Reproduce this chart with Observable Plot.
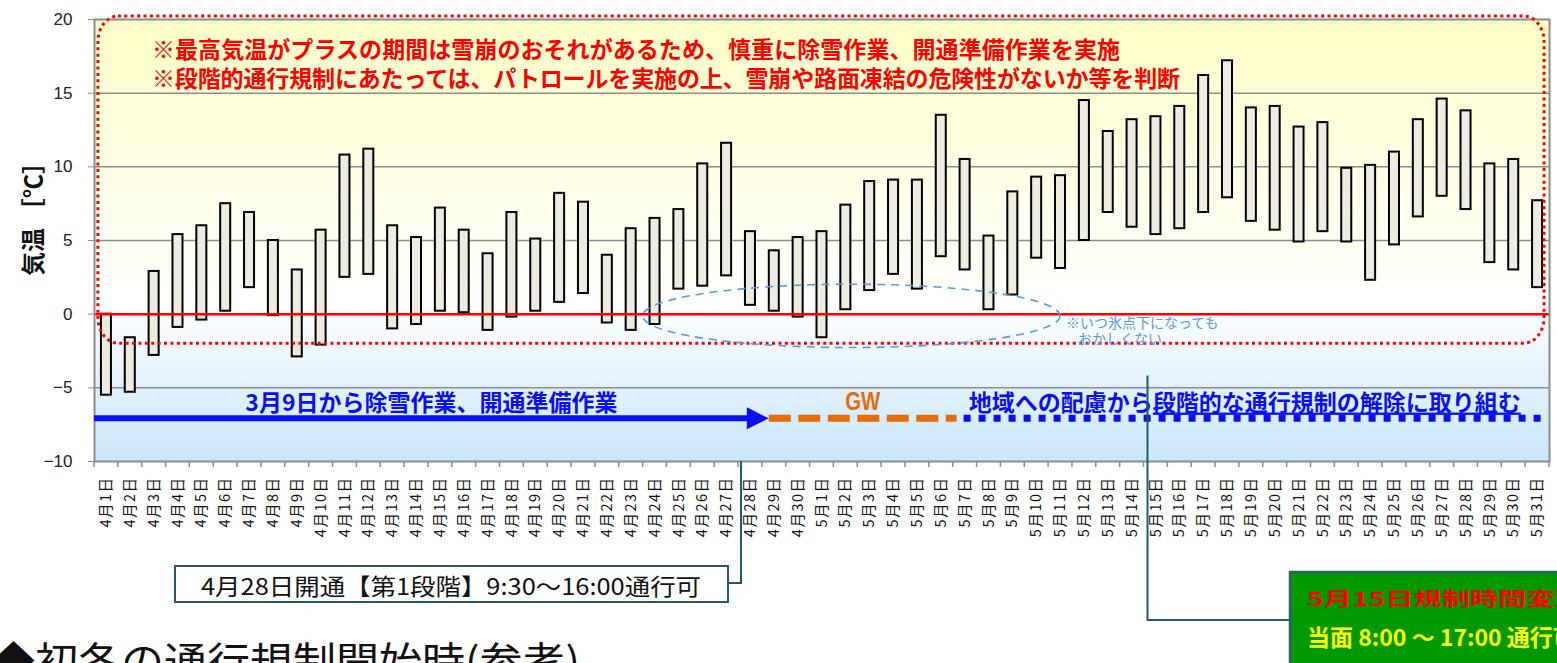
<!DOCTYPE html>
<html><head><meta charset="utf-8">
<script src="https://cdn.jsdelivr.net/npm/d3@7"></script>
<script src="https://cdn.jsdelivr.net/npm/@observablehq/plot@0.6"></script>
<style>
html,body{margin:0;padding:0;background:#fff;overflow:hidden;}
#chart svg{display:block;}
</style></head>
<body><div id="chart"></div>
<script>
// ---- data ----
const days = ["4月1日","4月2日","4月3日","4月4日","4月5日","4月6日","4月7日","4月8日","4月9日","4月10日",
"4月11日","4月12日","4月13日","4月14日","4月15日","4月16日","4月17日","4月18日","4月19日","4月20日",
"4月21日","4月22日","4月23日","4月24日","4月25日","4月26日","4月27日","4月28日","4月29日","4月30日",
"5月1日","5月2日","5月3日","5月4日","5月5日","5月6日","5月7日","5月8日","5月9日","5月10日",
"5月11日","5月12日","5月13日","5月14日","5月15日","5月16日","5月17日","5月18日","5月19日","5月20日",
"5月21日","5月22日","5月23日","5月24日","5月25日","5月26日","5月27日","5月28日","5月29日","5月30日","5月31日"];
const tmin = [-5.5,-5.3,-2.8,-0.9,-0.4,0.2,1.8,-0.1,-2.9,-2.1,
2.5,2.7,-1.0,-0.7,0.2,0.1,-1.1,-0.2,0.2,0.8,
1.4,-0.6,-1.1,-0.7,1.7,1.9,2.6,0.6,0.2,-0.2,
-1.6,0.3,1.6,2.7,1.7,3.9,3.0,0.3,1.3,3.8,
3.1,5.0,6.9,5.9,5.4,5.8,6.9,7.9,6.3,5.7,
4.9,5.6,4.9,2.3,4.7,6.6,8.0,7.1,3.5,3.0,1.8];
const tmax = [0.0,-1.6,2.9,5.4,6.0,7.5,6.9,5.0,3.0,5.7,
10.8,11.2,6.0,5.2,7.2,5.7,4.1,6.9,5.1,8.2,
7.6,4.0,5.8,6.5,7.1,10.2,11.6,5.6,4.3,5.2,
5.6,7.4,9.0,9.1,9.1,13.5,10.5,5.3,8.3,9.3,
9.4,14.5,12.4,13.2,13.4,14.1,16.2,17.2,14.0,14.1,
12.7,13.0,9.9,10.1,11.0,13.2,14.6,13.8,10.2,10.5,7.7];
const yTicks = [-10,-5,0,5,10,15,20];
const gridValues = [-5,5,10,15];
const zeroLine = [0];
const yTitle = "気温 ［℃］";

// ---- annotations ----
const noteLines = ["※最高気温がプラスの期間は雪崩のおそれがあるため、慎重に除雪作業、開通準備作業を実施",
                   "※段階的通行規制にあたっては、パトロールを実施の上、雪崩や路面凍結の危険性がないか等を判断"];
const noteLevels = [18.0, 16.0];
const cautionRange = [-2.0, 20.2];
const phaseLabels = [["3月9日から除雪作業、開通準備作業",""], ["GW",""], ["地域への配慮から","段階的な通行規制の解除に取り組む"]];
const phaseStart = ["4月1日","4月29日","5月7日"];
const phaseEnd = ["4月29日","5月7日","5月31日"];
const phaseKind = ["arrow","dash","dot"];
const phaseColors = ["#0A10F0","#E46C0A","#0A10F0"];
const phaseLevel = -7.1, phaseLabelLevel = -5.9;
const freezeSpan = ["4月24日","5月11日"];
const freezeLevels = [-2.3, 2.0];
const freezeNote = ["※いつ氷点下になっても","おかしくない"];
const callout1 = {day: "4月28日", text: "4月28日開通【第1段階】9:30～16:00通行可"};
const callout2 = {day: "5月15日", from: -4.2, lines: ["5月15日規制時間変更","当面 8:00 ～ 17:00 通行可"]};
const footerTitle = "◆初冬の通行規制開始時(参考)";

const data = days.map((d,i)=>({day:d, lo:tmin[i], hi:tmax[i]}));
const JP = "'Noto Sans CJK JP', 'Noto Sans', sans-serif";

const defsMark = () => {
  const defs = d3.create("svg:defs");
  const g = defs.append("linearGradient").attr("id","bgGrad").attr("x1",0).attr("y1",0).attr("x2",0).attr("y2",1);
  g.append("stop").attr("offset","0").attr("stop-color","#FFFFC8");
  g.append("stop").attr("offset","0.35").attr("stop-color","#FFFFE6");
  g.append("stop").attr("offset","0.64").attr("stop-color","#FFFFFF");
  g.append("stop").attr("offset","1").attr("stop-color","#C8E6FA");
  return defs.node();
};

const plot = Plot.plot({
  width: 1557, height: 663,
  marginTop: 19, marginBottom: 202, marginLeft: 94, marginRight: 8,
  style: {fontFamily: JP, background: "transparent", overflow: "visible"},
  x: {type: "band", domain: days, paddingInner: 0.58, paddingOuter: 0.29, round: false, label: null},
  y: {domain: [-10, 20], label: null},
  marks: [
    defsMark,
    Plot.frame({fill: "url(#bgGrad)"}),
    Plot.ruleY(gridValues, {stroke: "#8c8c8c", strokeWidth: 1.5}),
    Plot.barY(data, {x: "day", y1: "lo", y2: "hi", fill: "#EEEBE1", stroke: "#000", strokeWidth: 2}),
    Plot.ruleY(zeroLine, {stroke: "#FF0000", strokeWidth: 2.5}),
    Plot.frame({stroke: "#8c8c8c", strokeWidth: 2}),
    Plot.axisY({ticks: yTicks, tickSize: 6, tickPadding: 16, fontSize: 17, fontFamily: "'Liberation Sans', Arial, sans-serif", stroke: "#8c8c8c", fill: "#222", label: null}),
    Plot.axisX({tickRotate: -90, tickSize: 0, tickPadding: 15, fontSize: 14.5, fill: "#111", label: null})
  ]
});
document.getElementById("chart").append(plot);

// ---- annotation layer using Plot's scales ----
const svg = d3.select(plot);
const xs = plot.scale("x"), ys = plot.scale("y");
const X = d => xs.apply(d);
const step = xs.step, bw = xs.bandwidth;
const B = d => X(d) - (step - bw) / 2; // band boundary (left)
const Y = v => ys.apply(v);
const g = svg.append("g").attr("text-anchor", "start");

svg.selectAll("g[aria-label='x-axis tick label'] text").style("letter-spacing", "1.5px");

// x ticks between bands
const tickXs = days.map(B).concat([B(days[days.length-1]) + step]);
g.append("g").selectAll("line").data(tickXs).join("line")
  .attr("x1", d=>d).attr("x2", d=>d).attr("y1", Y(-10)).attr("y2", Y(-10)+6)
  .attr("stroke", "#8c8c8c").attr("stroke-width", 1.5);

// y title
g.append("text").attr("transform", `translate(31,${(Y(20)+Y(-10))/2 - 27}) rotate(-90)`)
  .attr("text-anchor","middle").attr("dominant-baseline","central")
  .attr("font-family", JP).attr("font-weight", 700).attr("font-size", 24).attr("fill","#111")
  .attr("textLength", 126).attr("lengthAdjust","spacing")
  .text(yTitle);

// caution rounded box
const cx0 = X(days[0]) - 3, cx1 = X(days[days.length-1]) + bw + 2;
g.append("rect").attr("x", cx0).attr("y", Y(cautionRange[1])).attr("width", cx1 - cx0)
  .attr("height", Y(cautionRange[0]) - Y(cautionRange[1])).attr("rx", 20).attr("ry", 26)
  .attr("fill","none").attr("stroke","#FF0000").attr("stroke-width",3).attr("stroke-dasharray","3,3.4");
noteLines.forEach((t,i)=>{
  g.append("text").attr("x", 152).attr("y", Y(noteLevels[i]) + (i===0? 0 : -1)).attr("dominant-baseline","central")
   .attr("text-anchor","start")
   .attr("font-family", JP).attr("font-weight",700).attr("font-size",23).attr("fill","#FF0000")
   .attr("textLength", i===0 ? 968 : 1028).attr("lengthAdjust","spacing").text(t);
});

// freeze ellipse
const ex0 = B(freezeSpan[0]), ex1 = X(freezeSpan[1]) + bw/2;
g.append("ellipse").attr("cx", (ex0+ex1)/2).attr("cy", (Y(freezeLevels[0])+Y(freezeLevels[1]))/2)
  .attr("rx", (ex1-ex0)/2).attr("ry", (Y(freezeLevels[0])-Y(freezeLevels[1]))/2)
  .attr("fill","none").attr("stroke","#5B9BD5").attr("stroke-width",1.6).attr("stroke-dasharray","8,6");
const fn = g.append("text").attr("text-anchor","start").attr("font-family", JP).attr("font-size",14).attr("fill","#5B9BD5");
fn.append("tspan").attr("x", ex1 + 6).attr("y", Y(-0.95)).text(freezeNote[0]);
fn.append("tspan").attr("x", ex1 + 18).attr("y", Y(-2.05)).text(freezeNote[1]);

// phases
phaseKind.forEach((k,i)=>{
  const a = i===0 ? B(phaseStart[i]) : X(phaseStart[i]) + (k==="dot" ? 4 : 0);
  const b = k==="arrow" ? X(phaseEnd[i]) : (k==="dash" ? X(phaseEnd[i]) - 3 : X(phaseEnd[i]) + bw);
  const yy = Y(phaseLevel);
  if (k==="arrow") {
    g.append("line").attr("x1", a).attr("x2", b-18).attr("y1", yy).attr("y2", yy)
      .attr("stroke", phaseColors[i]).attr("stroke-width", 6);
    g.append("path").attr("d", `M${b},${yy} L${b-22},${yy-11} L${b-22},${yy+11} Z`).attr("fill", phaseColors[i]);
  } else if (k==="dash") {
    g.append("line").attr("x1", a).attr("x2", b).attr("y1", yy).attr("y2", yy)
      .attr("stroke", phaseColors[i]).attr("stroke-width", 7).attr("stroke-dasharray","22,7.5");
  } else {
    g.append("line").attr("x1", a).attr("x2", b).attr("y1", yy).attr("y2", yy)
      .attr("stroke", phaseColors[i]).attr("stroke-width", 7).attr("stroke-dasharray","7,8");
  }
  const t = g.append("text").attr("x", (a+b)/2 - (k==="dot" ? 8 : 0)).attr("y", Y(phaseLabelLevel)).attr("text-anchor","middle")
    .attr("dominant-baseline","central").attr("font-weight",700).attr("fill", phaseColors[i]);
  if (k==="dash") {
    t.attr("font-family","'Liberation Sans', Arial, sans-serif").attr("font-size",25)
     .attr("textLength",35).attr("lengthAdjust","spacingAndGlyphs").text(phaseLabels[i][0]);
  } else {
    t.attr("font-family", JP).attr("font-size", 23);
    t.append("tspan").text(phaseLabels[i][0]);
    if (phaseLabels[i][1]) t.append("tspan").style("text-decoration","underline").text(phaseLabels[i][1]);
  }
});

// callout 1 (Apr 28)
const c1x = B(callout1.day) + 3;
g.append("path").attr("d", `M${c1x},${Y(-10)} L${c1x},583 L728,583`).attr("fill","none")
  .attr("stroke","#215B6B").attr("stroke-width",2);
g.append("rect").attr("x",175).attr("y",566).attr("width",553).attr("height",36)
  .attr("fill","#fff").attr("stroke","#215B6B").attr("stroke-width",2);
g.append("text").attr("x", 451).attr("y", 585).attr("text-anchor","middle").attr("dominant-baseline","central")
  .attr("font-family", JP).attr("font-size",23).attr("fill","#111")
  .attr("textLength",500).attr("lengthAdjust","spacingAndGlyphs").text(callout1.text);

// callout 2 (May 15)
const c2x = B(callout2.day) + 4;
g.append("path").attr("d", `M${c2x},${Y(callout2.from)} L${c2x},620 L1290,620`).attr("fill","none")
  .attr("stroke","#215B6B").attr("stroke-width",2);
g.append("rect").attr("x",1290).attr("y",572).attr("width",300).attr("height",110)
  .attr("fill","#009900").attr("stroke","#2F5B6B").attr("stroke-width",2.5);
g.append("text").attr("x",1307).attr("y",606).attr("text-anchor","start").attr("font-family", JP).attr("font-weight",700)
  .attr("font-size",19).attr("fill","#FF0000").attr("textLength",276).attr("lengthAdjust","spacingAndGlyphs")
  .text(callout2.lines[0]);
g.append("text").attr("x",1307).attr("y",646).attr("text-anchor","start").attr("font-family", JP).attr("font-weight",700)
  .attr("font-size",23).attr("fill","#FFFF00").text(callout2.lines[1]);

// footer title
g.append("text").attr("x",-8).attr("y",676).attr("text-anchor","start").attr("font-family", JP).attr("font-size",40).attr("fill","#111")
  .attr("textLength",588).attr("lengthAdjust","spacingAndGlyphs").text(footerTitle);
</script>
</body></html>
